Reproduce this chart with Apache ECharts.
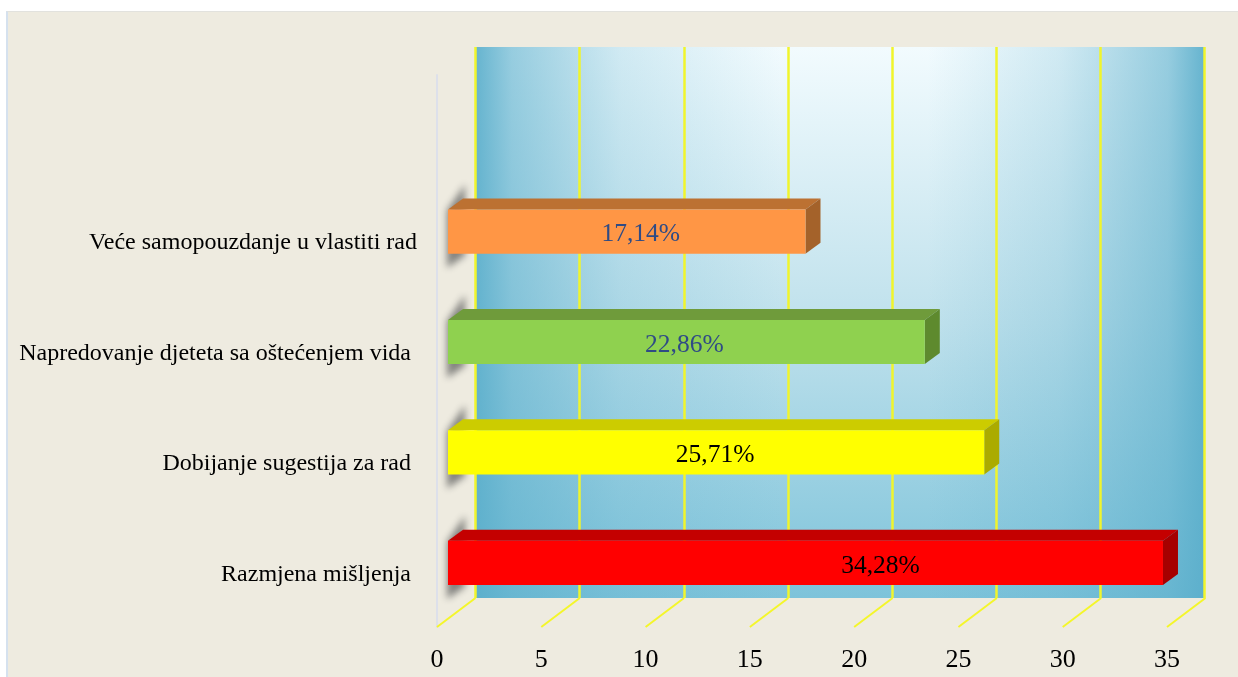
<!DOCTYPE html>
<html>
<head>
<meta charset="utf-8">
<style>
  html, body { margin: 0; padding: 0; background: #fff; overflow: hidden; }
  #panel { position: absolute; left: 6px; top: 11px; right: 0; bottom: 0; background: #EEEBE0; border-left: 2px solid #D5E1EE; border-top: 1px solid #E2E2DE; }
  #main { position: absolute; left: 0; top: 0; width: 1238px; height: 677px; }
</style>
<script src="https://cdn.jsdelivr.net/npm/echarts@6/dist/echarts.min.js"></script>
</head>
<body>
<div id="panel"></div>
<div id="main"></div>
<script>
// prazan gornji red postoji i u originalu, zato 5 kategorija
const categories = ['Razmjena mišljenja ', 'Dobijanje sugestija za rad ', 'Napredovanje djeteta sa oštećenjem vida ', 'Veće samopouzdanje u vlastiti rad', ''];
const values = [34.28, 25.71, 22.86, 17.14];
const xTicks = [0, 5, 10, 15, 20, 25, 30, 35];

const frontColors = ['#FF0000', '#FFFF00', '#8FD14F', '#FF9645'];
const topColors = ['#C40000', '#CCCC00', '#6F9B3B', '#BC7132'];
const sideColors = ['#A60000', '#ABAB00', '#5E8A2E', '#A4622A'];
const labelColors = ['#000000', '#000000', '#2F4B85', '#2F4B85'];
const labelShift = [75, -1, -2, 14];

const SERIF = '"Liberation Serif", "Times New Roman", serif';
const DX = 15, DY = 11;       // dubina stupca
const WALL_DX = 38.5, WALL_DY = 29;  // pomak zadnjeg zida
const FAR = 3000;             // sjena se crta iz poligona izvan ekrana da ostane mekana

const chart = echarts.init(document.getElementById('main'), null, { renderer: 'canvas' });

const renderWall = (params, api) => {
  const cs = params.coordSys;
  const shape = { x: cs.x, y: cs.y, width: cs.width, height: cs.height };
  return {
    type: 'group',
    children: [
      {
        type: 'rect', shape,
        style: {
          fill: new echarts.graphic.LinearGradient(0, 0, 0, 1, [
            { offset: 0, color: '#F2FBFE' },
            { offset: 0.5, color: '#BFE1EC' },
            { offset: 1, color: '#7DC3DA' }
          ])
        }
      },
      {
        type: 'rect', shape,
        style: {
          fill: new echarts.graphic.LinearGradient(0, 0, 1, 0, [
            { offset: 0, color: 'rgba(90,174,203,0.92)' },
            { offset: 0.05, color: 'rgba(90,174,203,0.6)' },
            { offset: 0.2, color: 'rgba(90,174,203,0.22)' },
            { offset: 0.42, color: 'rgba(90,174,203,0)' },
            { offset: 0.62, color: 'rgba(90,174,203,0)' },
            { offset: 0.8, color: 'rgba(90,174,203,0.22)' },
            { offset: 0.95, color: 'rgba(90,174,203,0.6)' },
            { offset: 1, color: 'rgba(90,174,203,0.92)' }
          ])
        }
      }
    ]
  };
};

const renderFloorLine = (params, api) => {
  const cs = params.coordSys;
  const x = api.coord([api.value(0), 0])[0];
  const y = cs.y + cs.height;
  return {
    type: 'line',
    shape: { x1: x, y1: y, x2: x + WALL_DX, y2: y - WALL_DY },
    style: { stroke: '#F4F62A', lineWidth: 2 }
  };
};

const renderBar = (params, api) => {
  const i = params.dataIndex;
  const cs = params.coordSys;
  const v = api.value(0);
  const center = api.coord([v, api.value(1)]);
  const h = api.size([0, 1])[1] * 0.4;
  const x0 = cs.x + 11;
  const x1 = center[0] + 11;
  const y0 = center[1] - 9 - h / 2;
  const y1 = y0 + h;
  return {
    type: 'group',
    children: [
      {
        type: 'polygon',
        shape: {
          points: [[x0 - 1 - FAR, y0 + 1], [x0 + 17 - FAR, y0 - 25], [x0 + 17 - FAR, y1 + 2], [x0 - 1 - FAR, y1 + 14]]
        },
        style: {
          fill: '#000',
          shadowBlur: 7,
          shadowColor: 'rgba(125,125,122,0.95)',
          shadowOffsetX: FAR
        }
      },
      {
        type: 'polygon',
        shape: { points: [[x0, y0], [x0 + DX, y0 - DY], [x1 + DX, y0 - DY], [x1, y0]] },
        style: { fill: topColors[i] }
      },
      {
        type: 'polygon',
        shape: { points: [[x1, y0], [x1 + DX, y0 - DY], [x1 + DX, y1 - DY], [x1, y1]] },
        style: { fill: sideColors[i] }
      },
      {
        type: 'rect',
        shape: { x: x0, y: y0, width: x1 - x0, height: h },
        style: { fill: frontColors[i] }
      },
      {
        type: 'text',
        style: {
          x: (x0 + x1) / 2 + labelShift[i],
          y: (y0 + y1) / 2 + 3,
          text: v.toFixed(2).replace('.', ',') + '%',
          fill: labelColors[i],
          font: '25.5px ' + SERIF,
          align: 'center',
          verticalAlign: 'middle'
        }
      }
    ]
  };
};

const option = {
  animation: false,
  backgroundColor: 'transparent',
  grid: [
    { left: 437, top: 75, width: 730, height: 552 },
    { left: 475.5, top: 47, width: 729, height: 551 }
  ],
  xAxis: [
    {
      gridIndex: 0, type: 'value', min: 0, max: 35, interval: 5,
      axisLine: { show: false }, axisTick: { show: false }, splitLine: { show: false },
      axisLabel: { margin: 20, color: '#000', fontFamily: SERIF, fontSize: 26 }
    },
    {
      gridIndex: 1, type: 'value', min: 0, max: 35, interval: 5,
      axisLine: { show: false }, axisTick: { show: false }, axisLabel: { show: false },
      splitLine: { show: true, lineStyle: { color: '#F0F52C', width: 2.5 } }
    }
  ],
  yAxis: [
    {
      gridIndex: 0, type: 'category', data: categories,
      axisLine: { show: true, lineStyle: { color: '#DDE0EA', width: 2 } },
      axisTick: { show: false }, splitLine: { show: false },
      axisLabel: {
        margin: 20,
        formatter: v => (v ? '{a|' + v + '}' : ''),
        rich: { a: { color: '#000', fontFamily: SERIF, fontSize: 24, padding: [5, 0, 0, 0] } }
      }
    },
    {
      gridIndex: 1, type: 'value', min: 0, max: 1,
      axisLine: { show: false }, axisTick: { show: false }, axisLabel: { show: false }, splitLine: { show: false }
    }
  ],
  series: [
    {
      type: 'custom', name: 'wall', xAxisIndex: 1, yAxisIndex: 1, z: -1, silent: true,
      data: [[0, 0]], renderItem: renderWall
    },
    {
      type: 'custom', name: 'floor', xAxisIndex: 0, yAxisIndex: 0, z: 1, silent: true,
      data: xTicks.map(t => [t, 0]), renderItem: renderFloorLine
    },
    {
      type: 'custom', name: 'bars', xAxisIndex: 0, yAxisIndex: 0, z: 3,
      data: values.map((v, i) => [v, i]), renderItem: renderBar,
      encode: { x: 0, y: 1 }
    }
  ]
};

chart.setOption(option);
</script>
</body>
</html>
